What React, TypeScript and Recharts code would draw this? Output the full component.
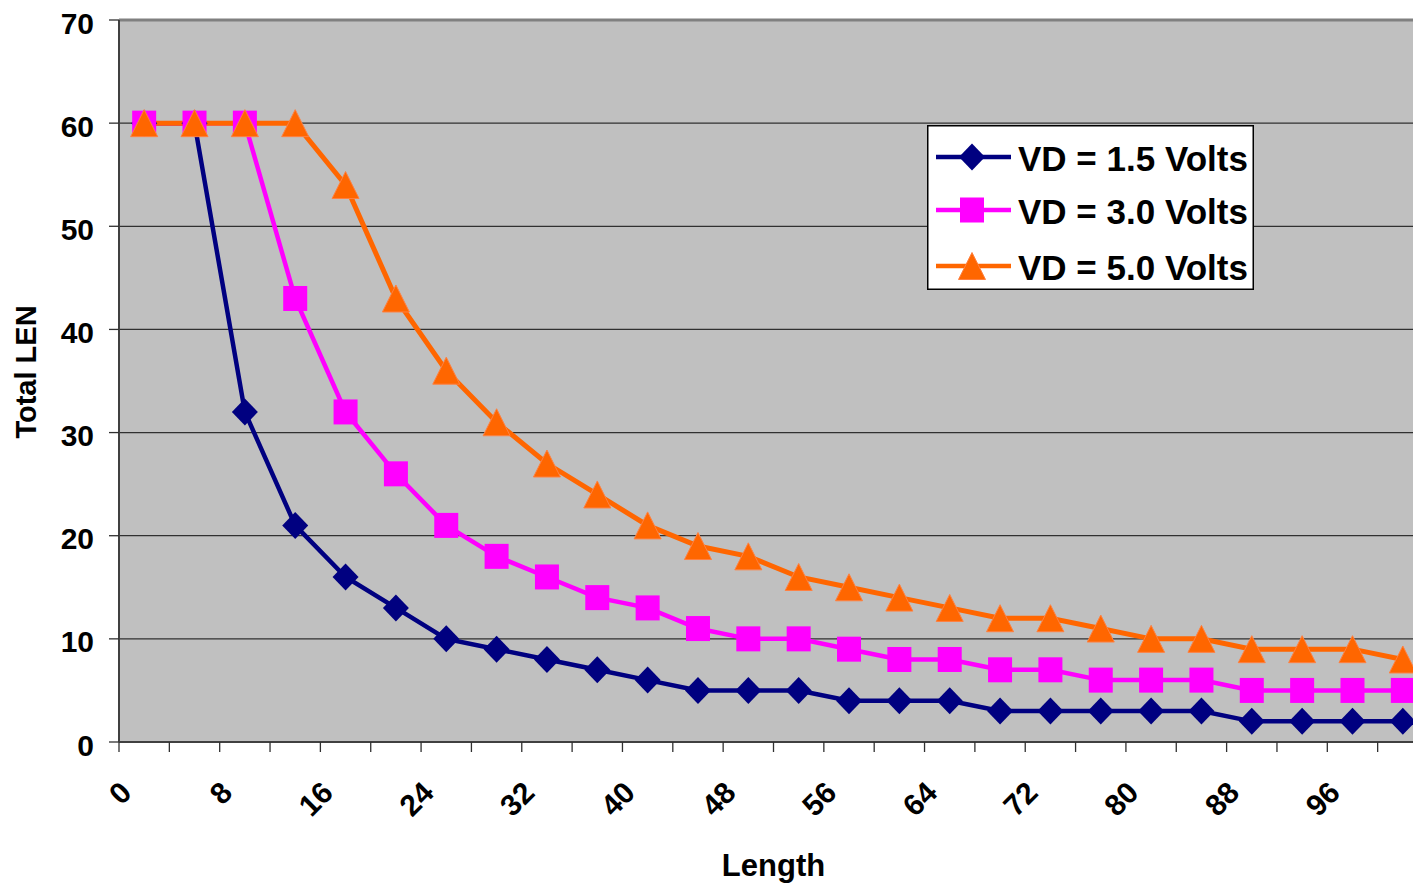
import React from 'react';
import { LineChart, Line, XAxis, YAxis, CartesianGrid, ReferenceLine } from 'recharts';

const lengths = [2, 6, 10, 14, 18, 22, 26, 30, 34, 38, 42, 46, 50, 54, 58, 62, 66, 70, 74, 78, 82, 86, 90, 94, 98, 102];
const vd15 = [60, 60, 32, 21, 16, 13, 10, 9, 8, 7, 6, 5, 5, 5, 4, 4, 4, 3, 3, 3, 3, 3, 2, 2, 2, 2];
const vd30 = [60, 60, 60, 43, 32, 26, 21, 18, 16, 14, 13, 11, 10, 10, 9, 8, 8, 7, 7, 6, 6, 6, 5, 5, 5, 5];
const vd50 = [60, 60, 60, 60, 54, 43, 36, 31, 27, 24, 21, 19, 18, 16, 15, 14, 13, 12, 12, 11, 10, 10, 9, 9, 9, 8];
const xTicks = [0, 4, 8, 12, 16, 20, 24, 28, 32, 36, 40, 44, 48, 52, 56, 60, 64, 68, 72, 76, 80, 84, 88, 92, 96, 100];
const xLabelTicks = [0, 8, 16, 24, 32, 40, 48, 56, 64, 72, 80, 88, 96];
const yTicks = [0, 10, 20, 30, 40, 50, 60, 70];
const seriesNames = ['VD = 1.5 Volts', 'VD = 3.0 Volts', 'VD = 5.0 Volts'];
const seriesKeys = ['vd15', 'vd30', 'vd50'];
const seriesColors = ['#000080', '#FF00FF', '#FF6600'];

const data = lengths.map((x, i) => ({ x, vd15: vd15[i], vd30: vd30[i], vd50: vd50[i] }));

const FONT = '"Liberation Sans", Arial, Helvetica, sans-serif';

const markerShape = (kind: number, cx: number, cy: number, key?: any) => {
  if (kind === 0) {
    return (
      <polygon key={key} points={`${cx},${cy - 13.5} ${cx + 13},${cy} ${cx},${cy + 13.5} ${cx - 13},${cy}`} fill="#000080" />
    );
  }
  if (kind === 1) {
    return <rect key={key} x={cx - 12} y={cy - 12.5} width={24} height={25} fill="#FF00FF" />;
  }
  return (
    <polygon
      key={key}
      points={`${cx},${cy - 13.5} ${cx + 13.5},${cy + 13.5} ${cx - 13.5},${cy + 13.5}`}
      fill="#FF6600"
      stroke="#FF8040"
      strokeWidth={1}
    />
  );
};

const makeDot = (kind: number) => (props: any) => {
  const { cx, cy, index } = props;
  if (cx == null || cy == null) return <g key={`e${kind}-${index}`} />;
  return markerShape(kind, cx, cy, `m${kind}-${index}`);
};

const XTick = (props: any) => {
  const { x, y, payload } = props;
  if (!xLabelTicks.includes(payload.value)) return <g />;
  const ax = x + 7;
  const ay = y + 33;
  return (
    <text
      x={ax}
      y={ay}
      textAnchor="end"
      dominantBaseline="central"
      transform={`rotate(-45, ${ax}, ${ay})`}
      fontFamily={FONT}
      fontWeight="bold"
      fontSize={30}
      fill="#000"
    >
      {payload.value}
    </text>
  );
};

const YTick = (props: any) => {
  const { x, y, payload } = props;
  return (
    <text x={x} y={y + 3} textAnchor="end" dominantBaseline="central" fontFamily={FONT} fontWeight="bold" fontSize={30} fill="#000">
      {payload.value}
    </text>
  );
};

const LegendBox = () => {
  const rowsY = [32, 85, 141];
  return (
    <svg width={327} height={165} style={{ display: 'block', position: 'absolute', left: 927, top: 125 }}>
      <rect x={0.75} y={0.75} width={325.5} height={163.5} fill="#FFFFFF" stroke="#000" strokeWidth={1.5} />
      {seriesNames.map((name, i) => (
        <g key={name}>
          <line x1={9} x2={84} y1={rowsY[i]} y2={rowsY[i]} stroke={seriesColors[i]} strokeWidth={4.5} />
          {markerShape(i, 45, rowsY[i])}
          <text x={91} y={rowsY[i] + 1} dominantBaseline="central" fontFamily={FONT} fontWeight="bold" fontSize={35} fill="#000">
            {name}
          </text>
        </g>
      ))}
    </svg>
  );
};

const XLabel = (props: any) => {
  const { viewBox } = props;
  const cx = viewBox.x + viewBox.width / 2;
  return (
    <text x={cx} y={865} textAnchor="middle" dominantBaseline="central" fontFamily={FONT} fontWeight="bold" fontSize={31} fill="#000">
      Length
    </text>
  );
};

const YLabel = (props: any) => {
  const { viewBox } = props;
  const cy = viewBox.y + viewBox.height / 2 - 9;
  const cx = 26;
  return (
    <text
      x={cx}
      y={cy}
      textAnchor="middle"
      dominantBaseline="central"
      transform={`rotate(-90, ${cx}, ${cy})`}
      fontFamily={FONT}
      fontWeight="bold"
      fontSize={29}
      fill="#000"
    >
      Total LEN
    </text>
  );
};

export default function App() {
  return (
    <div style={{ position: 'fixed', left: 0, top: 0, width: 1413, height: 886, overflow: 'hidden', background: '#fff' }}>
      <LineChart width={1440} height={886} data={data} margin={{ top: 20, right: 12, bottom: 0, left: 10 }}>
        <CartesianGrid horizontal vertical={false} fill="#C0C0C0" stroke="#303030" strokeWidth={1.3} />
        <ReferenceLine y={70} stroke="#808080" strokeWidth={3} />
        <XAxis
          type="number"
          dataKey="x"
          domain={[0, 104]}
          ticks={xTicks}
          interval={0}
          tickSize={10}
          tickMargin={2}
          height={144}
          stroke="#404040"
          strokeWidth={2}
          tickLine={{ stroke: '#303030', strokeWidth: 1.3 }}
          tick={<XTick />}
          label={<XLabel />}
        />
        <YAxis
          type="number"
          domain={[0, 70]}
          ticks={yTicks}
          interval={0}
          width={109}
          tickSize={10}
          tickMargin={15}
          stroke="#404040"
          strokeWidth={2}
          tickLine={{ stroke: '#303030', strokeWidth: 1.3 }}
          tick={<YTick />}
          label={<YLabel />}
        />
        {seriesKeys.map((k, i) => (
          <Line
            key={k}
            type="linear"
            dataKey={k}
            name={seriesNames[i]}
            stroke={seriesColors[i]}
            strokeWidth={i === 2 ? 5 : 4.5}
            dot={makeDot(i)}
            activeDot={false}
            isAnimationActive={false}
          />
        ))}
      </LineChart>
      <LegendBox />
    </div>
  );
}
